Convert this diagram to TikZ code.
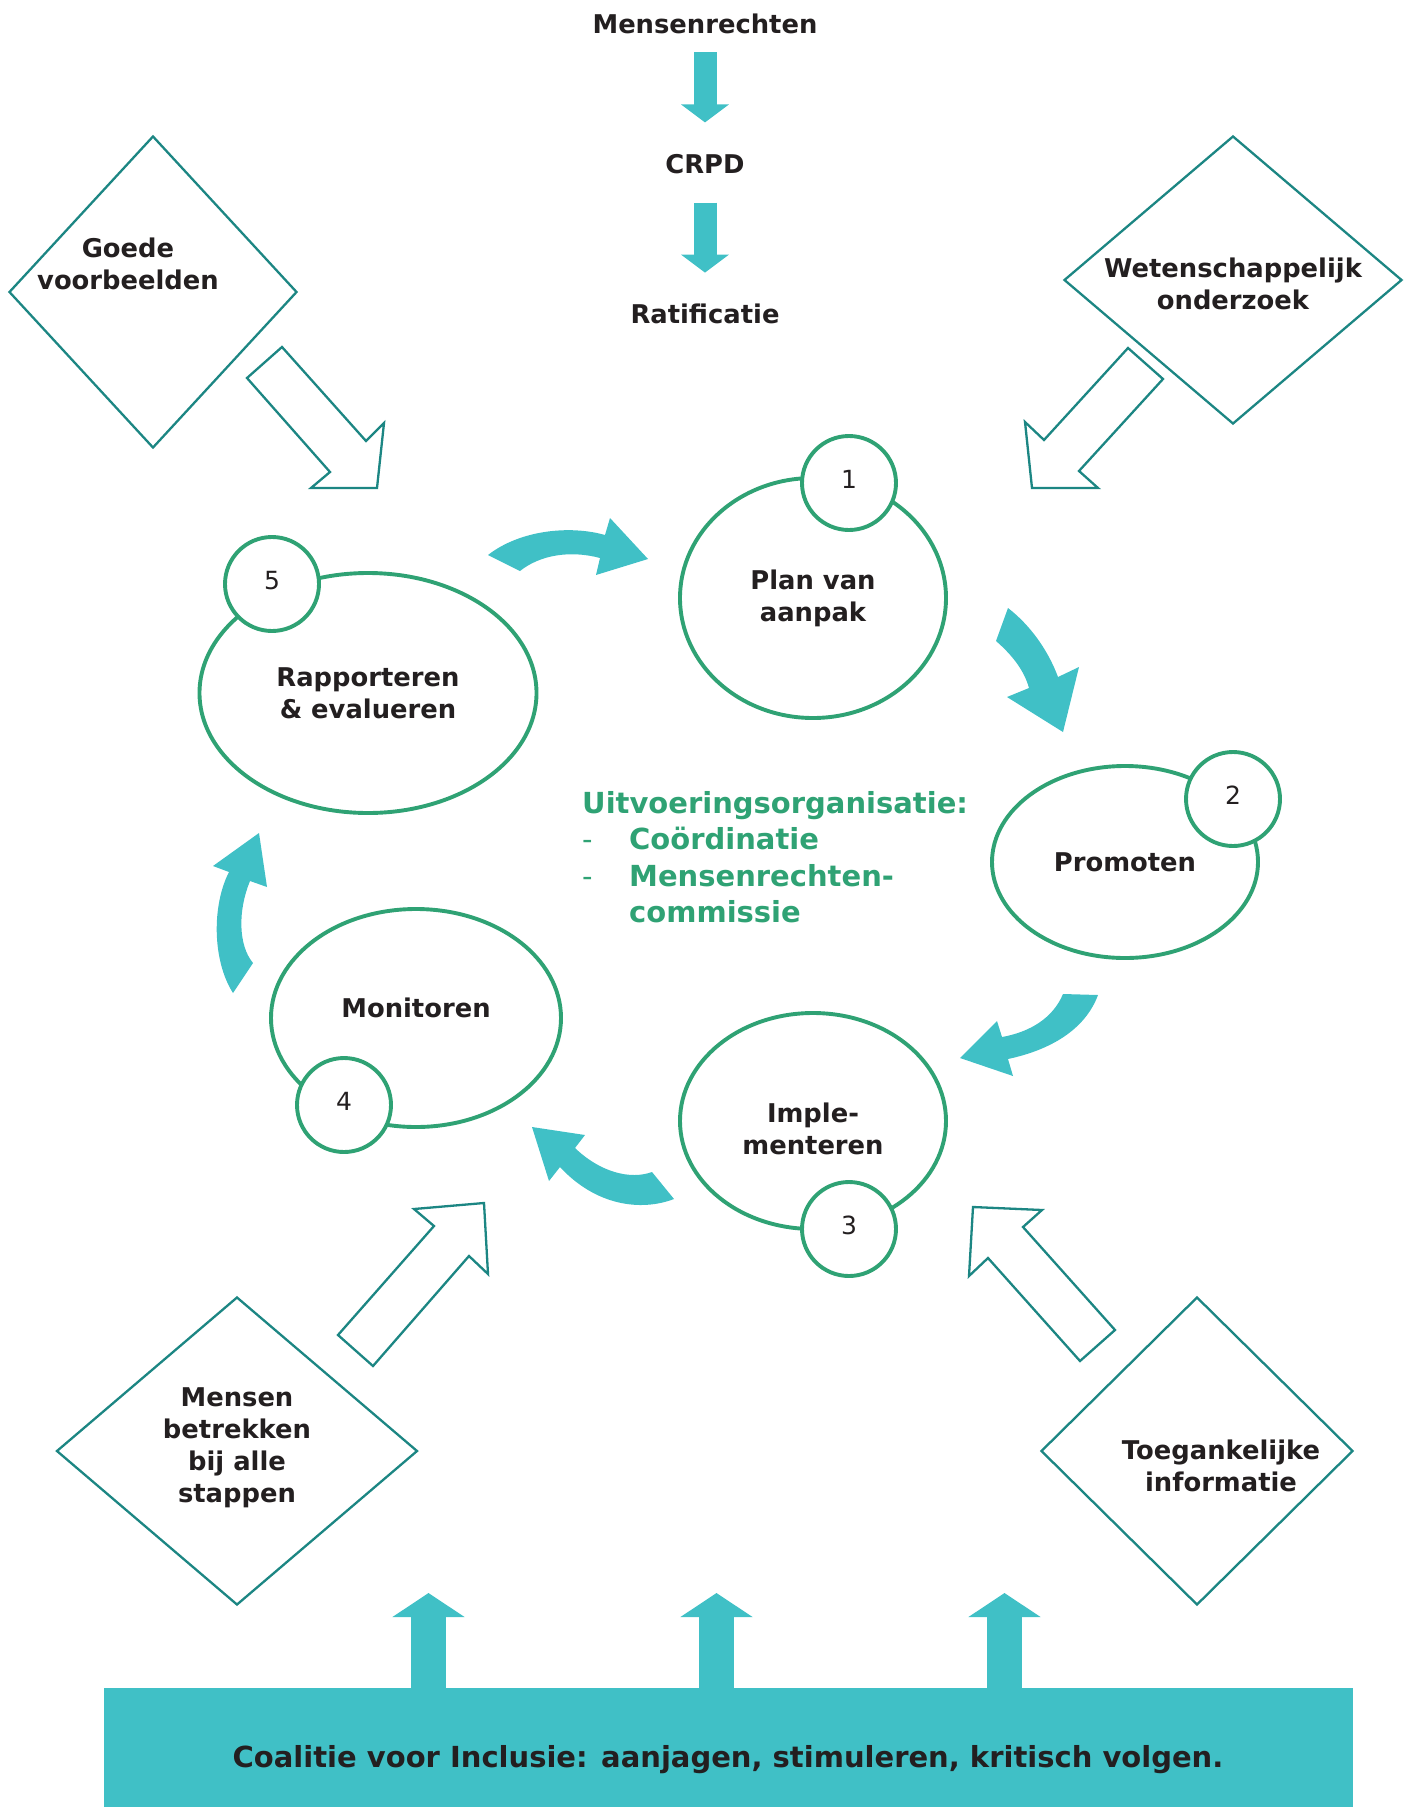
\documentclass[tikz,border=0pt]{standalone}
\usepackage{fontspec}
\setmainfont{DejaVu Sans}
\usetikzlibrary{shapes.geometric, arrows.meta, positioning}
\definecolor{cteal}{RGB}{64,192,198}
\definecolor{cgreen}{RGB}{47,162,116}
\definecolor{cdiam}{RGB}{28,134,131}
\definecolor{ctext}{RGB}{35,31,32}
\newcommand{\lblfont}{\bfseries\fontsize{25.8}{32}\selectfont}
\tikzset{
  lbl/.style={inner sep=0pt, align=center, text=ctext, font=\lblfont},
  stage/.style={ellipse, draw=cgreen, line width=3.9pt, inner sep=0pt, align=center, text=ctext, font=\lblfont},
  numc/.style={circle, draw=cgreen, line width=3.9pt, fill=white, inner sep=0pt, minimum size=94pt, text depth=8pt, text=ctext, font=\fontsize{25}{30}\selectfont},
  idea/.style={diamond, draw=cdiam, line width=2.3pt, inner sep=0pt},
  hollow/.style={draw=cdiam, line width=2.3pt, fill=white, line join=miter},
  bendarrow/.style={fill=cteal},
  downarrow/.style={draw=cteal, line width=23pt, -{Triangle[width=47pt 0 0, length=18pt 0 0]}},
  uparrow/.style={draw=cteal, line width=35pt, -{Triangle[width=71pt 0 0, length=24pt 0 0]}}
}

\begin{document}
\begin{tikzpicture}[x=1pt, y=-1pt]
    \useasboundingbox (0,0) rectangle (1410,1807);

    % top chain
    \node[lbl] (mensenrechten) at (705,24) {Mensenrechten};
    \node[lbl] (crpd) at (705,164) {CRPD};
    \node[lbl] (ratificatie) at (705,314) {Ratificatie};
    \draw[downarrow, shorten <=18pt, shorten >=31.6pt] (mensenrechten.south) -- (crpd.north);
    \draw[downarrow, shorten <=28.6pt, shorten >=31.2pt] (crpd.south) -- (ratificatie.north);

    % diamonds
    \node[idea, minimum width=288pt, minimum height=312pt] (goede) at (153,292) {};
    \node[lbl] (goedetxt) at (128,264) {Goede\\voorbeelden};
    \node[idea, minimum width=338pt, minimum height=288pt] (wetenschap) at (1233,280) {};
    \node[lbl] (wetenschaptxt) at (1233,284) {Wetenschappelijk\\onderzoek};
    \node[idea, minimum width=361pt, minimum height=308pt] (betrekken) at (237,1451) {};
    \node[lbl] (betrekkentxt) at (237,1448) {Mensen\\betrekken\\bij alle\\stappen};
    \node[idea, minimum width=312pt, minimum height=308pt] (toegang) at (1197,1451) {};
    \node[lbl] (toegangtxt) at (1221,1466) {Toegankelijke\\informatie};

    \draw[hollow] (282,347) -- (366,441) -- (384,423) -- (377,488) -- (311,488) -- (330,472) -- (247,378) -- cycle;
    \draw[hollow] (1128,348) -- (1163,379) -- (1079,471) -- (1098,488) -- (1032,488) -- (1025,422) -- (1044,440) -- cycle;
    \draw[hollow] (338,1335) -- (373,1366) -- (469,1256) -- (488,1274) -- (484,1203) -- (414,1209) -- (434,1226) -- cycle;
    \draw[hollow] (1080,1361) -- (1115,1330) -- (1023,1227) -- (1042,1210) -- (973,1207) -- (969,1276) -- (988,1258) -- cycle;

    % cycle
    \node[stage, minimum width=266pt, minimum height=240pt] (plan) at (813,598) {Plan van\\aanpak};
    \node[stage, minimum width=266pt, minimum height=192pt] (promoten) at (1125,862) {Promoten};
    \node[stage, minimum width=266pt, minimum height=216pt] (implementeren) at (813,1121) {};
    \node[lbl] (implementerentxt) at ([yshift=-8pt]implementeren.center) {Imple-\\menteren};
    \node[stage, minimum width=290pt, minimum height=218pt] (monitoren) at (416,1018) {};
    \node[lbl] (monitorentxt) at ([yshift=10pt]monitoren.center) {Monitoren};
    \node[stage, minimum width=337pt, minimum height=240pt] (rapporteren) at (368,693) {Rapporteren\\\& evalueren};

    \node[numc] (n1) at (849,483) {1};
    \node[numc] (n2) at (1233,799) {2};
    \node[numc] (n3) at (849,1229) {3};
    \node[numc] (n4) at (344,1105) {4};
    \node[numc] (n5) at (272,584) {5};

    \fill[bendarrow] (488,555) .. controls (520,530) and (570,525) .. (605,535) -- (610,518) -- (648,559) -- (596,575) -- (600,558) .. controls (570,550) and (540,555) .. (520,571) -- cycle;
    \fill[bendarrow] (1008,608) .. controls (1030,625) and (1048,650) .. (1058,677) -- (1079,667) -- (1063,732) -- (1007,697) -- (1029,688) .. controls (1024,670) and (1012,655) .. (996,641) -- cycle;
    \fill[bendarrow] (1098,995) .. controls (1085,1030) and (1050,1050) .. (1008,1059) -- (1013,1076) -- (960,1058) -- (997,1021) -- (1002,1037) .. controls (1030,1032) and (1053,1018) .. (1063,994) -- cycle;
    \fill[bendarrow] (674,1199) .. controls (640,1212) and (595,1205) .. (560,1167) -- (549,1181) -- (532,1127) -- (585,1135) -- (575,1148) .. controls (600,1172) and (630,1180) .. (652,1172) -- cycle;
    \fill[bendarrow] (233,993) .. controls (212,960) and (212,905) .. (229,872) -- (213,866) -- (259,833) -- (267,887) -- (250,881) .. controls (238,910) and (238,945) .. (253,963) -- cycle;

    \node[anchor=north west, inner sep=0pt, align=left, text=cgreen, font=\bfseries\fontsize{29}{36.5}\selectfont] (uitvoering) at (582,791)
        {Uitvoeringsorganisatie:\\\makebox[47pt][l]{\mdseries -}Coördinatie\\\makebox[47pt][l]{\mdseries -}Mensenrechten-\\\hspace*{47pt}commissie};

    % coalition bar
    \node[fill=cteal, inner sep=0pt, minimum width=1249pt, minimum height=119pt] (coalitie) at (728.5,1747.5) {};
    \node[lbl, font=\bfseries\fontsize{29}{35}\selectfont] (coalitietxt) at (728,1760) {Coalitie voor Inclusie: aanjagen, stimuleren, kritisch volgen.};
    \foreach \x in {428.5,716.5,1004.5}
        \draw[uparrow] (\x,1688) -- (\x,1593);
\end{tikzpicture}
\end{document}
